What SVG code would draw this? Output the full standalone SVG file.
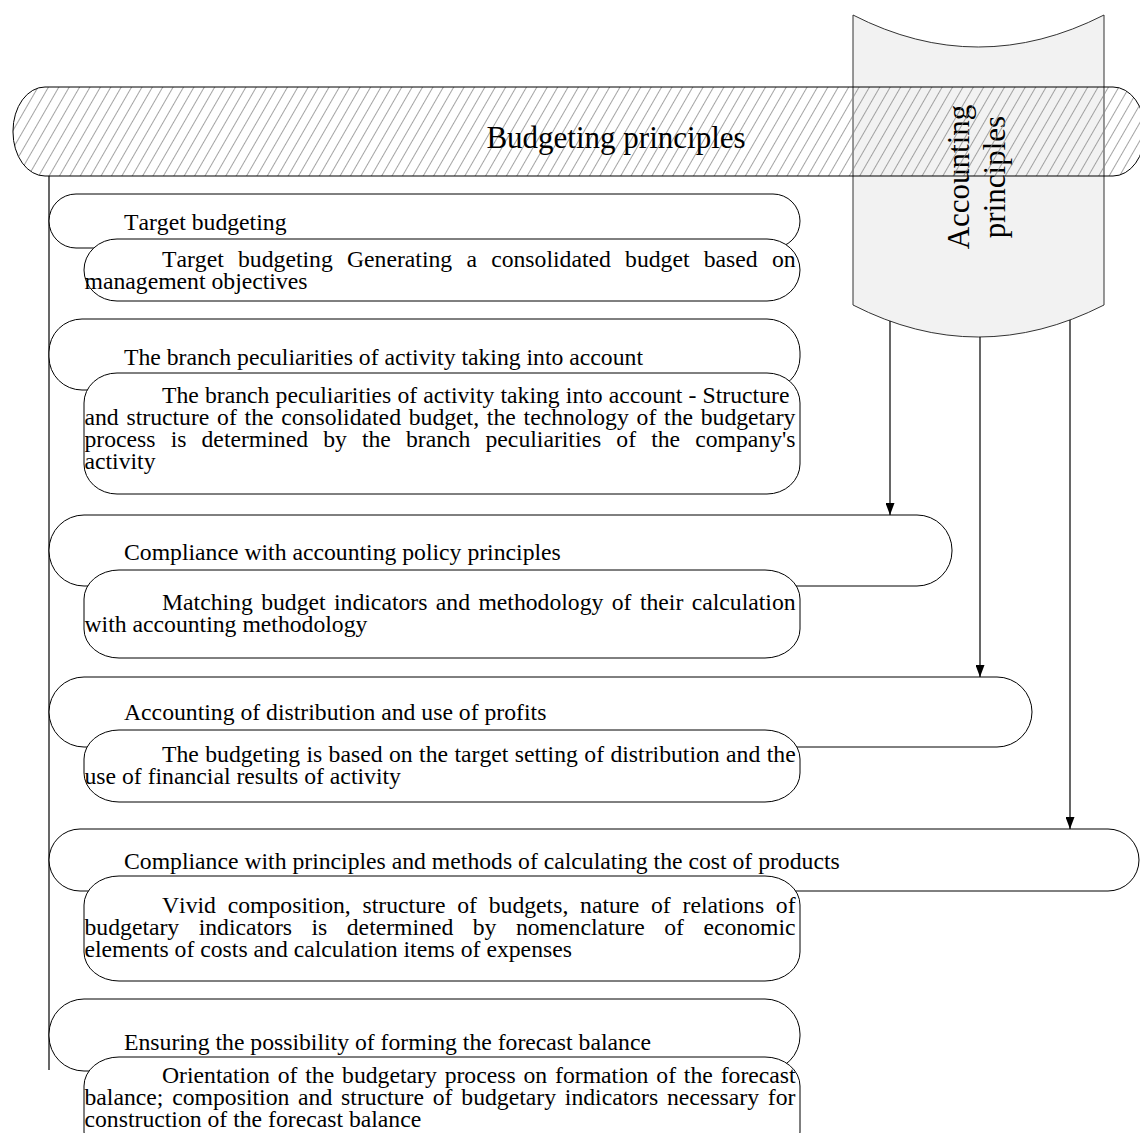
<svg xmlns="http://www.w3.org/2000/svg" width="1140" height="1133" viewBox="0 0 1140 1133">
<defs>
  <pattern id="hatch" width="9" height="9" patternUnits="userSpaceOnUse" patternTransform="rotate(30)">
    <line x1="4.5" y1="-1" x2="4.5" y2="10" stroke="#858585" stroke-width="0.75"/>
  </pattern>
  <marker id="arr" viewBox="0 0 12 9" refX="12" refY="4.5" markerWidth="12" markerHeight="9" markerUnits="userSpaceOnUse" orient="auto">
    <path d="M0,0 L12,4.5 L0,9 Z" fill="#000"/>
  </marker>
</defs>
<style>
  text{font-family:"Liberation Serif","Times New Roman",serif;font-size:23.7px;fill:#000;font-kerning:none}
  .big{font-size:31px}
  .box{fill:#fff;stroke:#000;stroke-width:1}
  .conn{fill:none;stroke:#000;stroke-width:1.2}
</style>
<rect width="1140" height="1133" fill="#fff"/>

<g id="accounting-principles">
  <path d="M853,15 Q978,79 1104,15 L1104,305 Q978,369 853,305 Z" fill="#f2f2f2" stroke="#333" stroke-width="1"/>
  <text class="big" transform="translate(987,177) rotate(-90)" text-anchor="middle"><tspan x="0" y="-18">Accounting</tspan><tspan x="0" y="18">principles</tspan></text>
</g>

<g id="budgeting-principles">
  <rect x="13" y="87" width="1132" height="89" rx="32" ry="44" fill="url(#hatch)" stroke="#000" stroke-width="1"/>
  <text class="big" x="616" y="148" text-anchor="middle">Budgeting principles</text>
</g>

<g id="connectors">
  <line class="conn" x1="49" y1="176" x2="49" y2="1070"/>
  <line class="conn" x1="890" y1="321" x2="890" y2="515" marker-end="url(#arr)"/>
  <line class="conn" x1="980" y1="337" x2="980" y2="677" marker-end="url(#arr)"/>
  <line class="conn" x1="1070" y1="320" x2="1070" y2="829" marker-end="url(#arr)"/>
</g>

<g id="item1">
  <rect class="box" x="49" y="194" width="751" height="54" rx="27" ry="27"/>
  <text x="124" y="230">Target budgeting</text>
  <rect class="box" x="84" y="239" width="716" height="62" rx="33" ry="31"/>
  <text x="162" y="267" style="word-spacing:8.29px">Target budgeting Generating a consolidated budget based on</text>
  <text x="84.5" y="289">management objectives</text>
</g>

<g id="item2">
  <rect class="box" x="49" y="319" width="751" height="71" rx="33" ry="33"/>
  <text x="124" y="365">The branch peculiarities of activity taking into account</text>
  <rect class="box" x="84" y="373" width="716" height="121" rx="33" ry="30"/>
  <text x="162" y="403" style="word-spacing:0.21px">The branch peculiarities of activity taking into account - Structure</text>
  <text x="84.5" y="425" style="word-spacing:1.83px">and structure of the consolidated budget, the technology of the budgetary</text>
  <text x="84.5" y="447" style="word-spacing:9.17px">process is determined by the branch peculiarities of the company's</text>
  <text x="84.5" y="469">activity</text>
</g>

<g id="item3">
  <rect class="box" x="49" y="515" width="903" height="71" rx="35" ry="35"/>
  <text x="124" y="560">Compliance with accounting policy principles</text>
  <rect class="box" x="84" y="570" width="716" height="88" rx="35" ry="29"/>
  <text x="162" y="610" style="word-spacing:2.46px">Matching budget indicators and methodology of their calculation</text>
  <text x="84.5" y="632">with accounting methodology</text>
</g>

<g id="item4">
  <rect class="box" x="49" y="677" width="983" height="70" rx="35" ry="35"/>
  <text x="124" y="720">Accounting of distribution and use of profits</text>
  <rect class="box" x="84" y="730" width="716" height="72" rx="35" ry="29"/>
  <text x="162" y="762" style="word-spacing:0.49px">The budgeting is based on the target setting of distribution and the</text>
  <text x="84.5" y="784">use of financial results of activity</text>
</g>

<g id="item5">
  <rect class="box" x="49" y="829" width="1090" height="62" rx="31" ry="31"/>
  <text x="124" y="869">Compliance with principles and methods of calculating the cost of products</text>
  <rect class="box" x="84" y="876" width="716" height="105" rx="35" ry="29"/>
  <text x="162" y="913" style="word-spacing:5.85px">Vivid composition, structure of budgets, nature of relations of</text>
  <text x="84.5" y="935" style="word-spacing:13.53px">budgetary indicators is determined by nomenclature of economic</text>
  <text x="84.5" y="957">elements of costs and calculation items of expenses</text>
</g>

<g id="item6">
  <rect class="box" x="49" y="999" width="751" height="72" rx="35" ry="35"/>
  <text x="124" y="1050">Ensuring the possibility of forming the forecast balance</text>
  <rect class="box" x="84" y="1057" width="716" height="104" rx="35" ry="29"/>
  <text x="162" y="1083" style="word-spacing:1.92px">Orientation of the budgetary process on formation of the forecast</text>
  <text x="84.5" y="1105" style="word-spacing:2.87px">balance; composition and structure of budgetary indicators necessary for</text>
  <text x="84.5" y="1127">construction of the forecast balance</text>
</g>
</svg>
